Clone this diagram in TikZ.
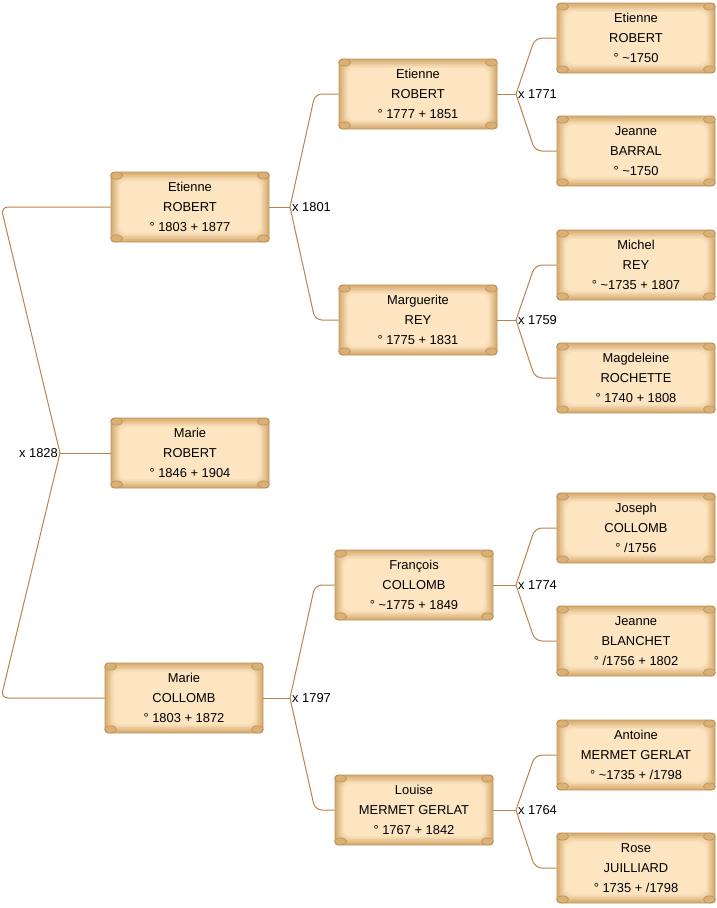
\documentclass[tikz,border=0pt]{standalone}
\usepackage{fontspec}
\setmainfont{Liberation Sans}
\usetikzlibrary{positioning}

\definecolor{parchlight}{HTML}{FDE5C2}
\definecolor{parchdark}{HTML}{D9B075}
\definecolor{parchline}{HTML}{BF9056}
\definecolor{linkbrown}{HTML}{B8844C}

\tikzset{
  scroll/.style={draw=parchline, line width=.8pt, fill=parchdark,
    rounded corners=3pt, minimum width=158pt, minimum height=70pt,
    align=center, inner sep=2pt,
    font=\fontsize{12.9}{20}\selectfont,
    path picture={
      \foreach \k/\p in {1/12,2/30,3/50,4/70,5/88,6/100}
        \fill[parchlight!\p!parchdark, rounded corners=7pt]
          ([shift={(\k*1.5pt,-\k*1.5pt)}]path picture bounding box.north west)
          rectangle ([shift={(-\k*1.5pt,\k*1.5pt)}]path picture bounding box.south east);
    }},
  curl/.style={fill=parchdark, draw=parchline, line width=.6pt},
  link/.style={draw=linkbrown, line width=1pt, rounded corners=7pt},
  year/.style={font=\fontsize{12.9}{15}\selectfont, inner sep=2pt}
}

\begin{document}
\begin{tikzpicture}[x=1pt, y=-1pt]
  \useasboundingbox (0,0) rectangle (716,908);

  % generation 1
  \node[scroll] (marieR) at (190,453) {Marie\\ROBERT\\° 1846 + 1904};

  % generation 2
  \node[scroll] (etienne03) at (190,207) {Etienne\\ROBERT\\° 1803 + 1877};
  \node[scroll] (marieC) at (184,698) {Marie\\COLLOMB\\° 1803 + 1872};

  % generation 3
  \node[scroll] (etienne77) at (418,94) {Etienne\\ROBERT\\° 1777 + 1851};
  \node[scroll] (margueriteR) at (418,320) {Marguerite\\REY\\° 1775 + 1831};
  \node[scroll] (francoisC) at (414,585) {François\\COLLOMB\\° \textasciitilde1775 + 1849};
  \node[scroll] (louiseM) at (414,810) {Louise\\MERMET GERLAT\\° 1767 + 1842};

  % generation 4
  \node[scroll] (etienne50) at (636,38) {Etienne\\ROBERT\\° \textasciitilde1750};
  \node[scroll] (jeanneB) at (636,151) {Jeanne\\BARRAL\\° \textasciitilde1750};
  \node[scroll] (michelR) at (636,265) {Michel\\REY\\° \textasciitilde1735 + 1807};
  \node[scroll] (magdeleineR) at (636,378) {Magdeleine\\ROCHETTE\\° 1740 + 1808};
  \node[scroll] (josephC) at (636,528) {Joseph\\COLLOMB\\° /1756};
  \node[scroll] (jeanneBl) at (636,641) {Jeanne\\BLANCHET\\° /1756 + 1802};
  \node[scroll] (antoineM) at (636,755) {Antoine\\MERMET GERLAT\\° \textasciitilde1735 + /1798};
  \node[scroll] (roseJ) at (636,868) {Rose\\JUILLIARD\\° 1735 + /1798};

  % curled ends of the scrolls
  \foreach \n in {marieR,etienne03,marieC,etienne77,margueriteR,francoisC,louiseM,
                  etienne50,jeanneB,michelR,magdeleineR,josephC,jeanneBl,antoineM,roseJ}{
    \draw[curl] ([shift={(6pt,-4pt)}]\n.north west) ellipse (6pt and 3.5pt);
    \draw[curl] ([shift={(-6pt,-4pt)}]\n.north east) ellipse (6pt and 3.5pt);
    \draw[curl] ([shift={(6pt,4pt)}]\n.south west) ellipse (6pt and 3.5pt);
    \draw[curl] ([shift={(-6pt,4pt)}]\n.south east) ellipse (6pt and 3.5pt);
  }

  % marriages
  \coordinate (hub28) at (60,453);
  \coordinate (hub01) at (290,207);
  \coordinate (hub97) at (290,698);
  \coordinate (hub71) at (516,94);
  \coordinate (hub59) at (516,320);
  \coordinate (hub74) at (516,585);
  \coordinate (hub64) at (516,810);

  \node[year, left] (x1828) at (hub28) {x 1828};
  \node[year, right] (x1801) at (hub01) {x 1801};
  \node[year, right] (x1797) at (hub97) {x 1797};
  \node[year, right] (x1771) at (hub71) {x 1771};
  \node[year, right] (x1759) at (hub59) {x 1759};
  \node[year, right] (x1774) at (hub74) {x 1774};
  \node[year, right] (x1764) at (hub64) {x 1764};

  \draw[link] (hub28) -- (marieR.west);
  \draw[link] (hub28) -- (etienne03.west -| 1,0) -- (etienne03.west);
  \draw[link] (hub28) -- (marieC.west -| 1,0) -- (marieC.west);

  \draw[link] (etienne03.east) -- (hub01);
  \draw[link] (hub01) -- (etienne77.west -| 315,0) -- (etienne77.west);
  \draw[link] (hub01) -- (margueriteR.west -| 315,0) -- (margueriteR.west);

  \draw[link] (marieC.east) -- (hub97);
  \draw[link] (hub97) -- (francoisC.west -| 315,0) -- (francoisC.west);
  \draw[link] (hub97) -- (louiseM.west -| 315,0) -- (louiseM.west);

  \draw[link] (etienne77.east) -- (hub71);
  \draw[link] (hub71) -- (etienne50.west -| 535,0) -- (etienne50.west);
  \draw[link] (hub71) -- (jeanneB.west -| 535,0) -- (jeanneB.west);

  \draw[link] (margueriteR.east) -- (hub59);
  \draw[link] (hub59) -- (michelR.west -| 535,0) -- (michelR.west);
  \draw[link] (hub59) -- (magdeleineR.west -| 535,0) -- (magdeleineR.west);

  \draw[link] (francoisC.east) -- (hub74);
  \draw[link] (hub74) -- (josephC.west -| 535,0) -- (josephC.west);
  \draw[link] (hub74) -- (jeanneBl.west -| 535,0) -- (jeanneBl.west);

  \draw[link] (louiseM.east) -- (hub64);
  \draw[link] (hub64) -- (antoineM.west -| 535,0) -- (antoineM.west);
  \draw[link] (hub64) -- (roseJ.west -| 535,0) -- (roseJ.west);
\end{tikzpicture}
\end{document}
